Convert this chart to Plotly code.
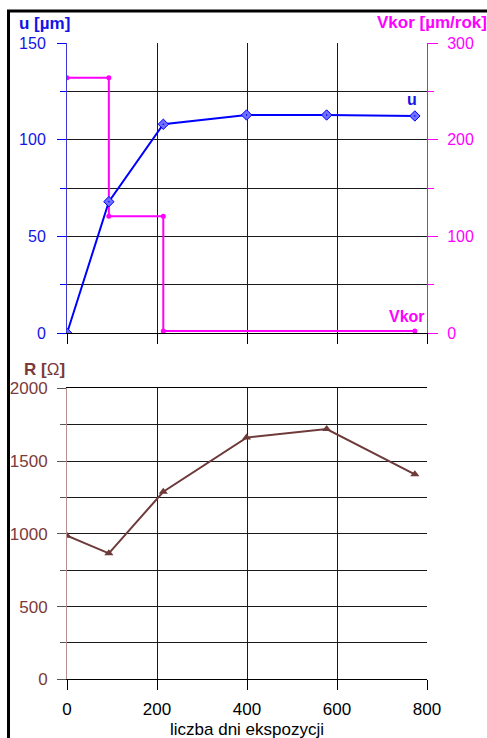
import plotly.graph_objects as go

# ---- data ----
days = [0, 93, 214, 399, 577, 773]
u_um = [0, 68, 108, 112.8, 112.8, 112.3]
vkor_x = [0, 93, 93, 214, 214, 773]
vkor_y = [264, 264, 121, 121, 2.4, 2.4]
r_ohm = [987, 866, 1289, 1661, 1720, 1409]
x_ticks = [0, 200, 400, 600, 800]

W, H = 487, 738
FONT = "Liberation Sans, Arial, sans-serif"
BLUE = "#0000ff"
BLUE_TXT = "#1414e6"
MAG = "#ff00ff"
BROWN = "#6e3a3a"
BROWN_TXT = "#7a3a3a"
GRID = "#1a1a1a"

def px(x):
    return x / W

def py(y):
    return 1 - y / H

xdom = [px(67), px(427)]
top_dom = [py(333.3), py(43)]
bot_dom = [py(679.3), py(388.3)]

fig = go.Figure()

fig.add_trace(go.Scatter(
    x=vkor_x, y=vkor_y, mode="lines+markers", xaxis="x", yaxis="y",
    line=dict(color=MAG, width=2), marker=dict(symbol="circle", size=5, color=MAG),
    hoverinfo="skip", showlegend=False))
fig.add_trace(go.Scatter(
    x=days, y=u_um, mode="lines+markers", xaxis="x", yaxis="y2",
    line=dict(color=BLUE, width=2),
    marker=dict(symbol="diamond-dot", size=8, color="#7070ff", line=dict(color=BLUE, width=1)),
    hoverinfo="skip", showlegend=False))
fig.add_trace(go.Scatter(
    x=days, y=r_ohm, mode="lines+markers", xaxis="x2", yaxis="y3",
    line=dict(color=BROWN, width=2), marker=dict(symbol="triangle-up", size=8, color=BROWN),
    hoverinfo="skip", showlegend=False))

common_x = dict(range=[0, 800], tickvals=x_ticks, showgrid=True, gridcolor=GRID, gridwidth=1,
                ticks="outside", ticklen=10, tickcolor="#000", zeroline=False, automargin=False,
                showline=True, linecolor="#000", linewidth=1, fixedrange=True)

fig.update_layout(
    template="none",
    width=W, height=H, margin=dict(l=0, r=0, t=0, b=0, autoexpand=False),
    paper_bgcolor="white", plot_bgcolor="white",
    font=dict(family=FONT, size=16, color="#000"),
    xaxis=dict(domain=xdom, anchor="y", showticklabels=False, **common_x),
    yaxis=dict(domain=top_dom, anchor="x", side="right", range=[0, 300], dtick=100,
               showgrid=True, gridcolor=GRID, gridwidth=1, automargin=False,
               minor=dict(dtick=50, showgrid=True, gridcolor=GRID, ticks="outside", ticklen=6, tickcolor=MAG),
               ticks="outside", ticklen=10, tickcolor=MAG, showline=True, linecolor=MAG, linewidth=1,
               tickfont=dict(color=MAG, size=16), ticklabelstandoff=6, zeroline=False, fixedrange=True),
    yaxis2=dict(overlaying="y", anchor="x", side="left", range=[0, 150], dtick=50,
                showgrid=False, automargin=False,
                minor=dict(dtick=25, showgrid=False, ticks="outside", ticklen=6, tickcolor=BLUE),
                ticks="outside", ticklen=9, tickcolor=BLUE, showline=True, linecolor="#3a3ad0", linewidth=1,
                tickfont=dict(color=BLUE_TXT, size=16), ticklabelstandoff=8, zeroline=False, fixedrange=True),
    xaxis2=dict(domain=xdom, anchor="y3", showticklabels=True, tickfont=dict(size=17, color="#000"),
                ticklabelstandoff=4, mirror=True, **common_x),
    yaxis3=dict(domain=bot_dom, anchor="x2", range=[0, 2000], dtick=500,
                showgrid=True, gridcolor=GRID, gridwidth=1, automargin=False,
                minor=dict(dtick=250, showgrid=True, gridcolor=GRID, ticks="outside", ticklen=6, tickcolor="#555"),
                ticks="outside", ticklen=9, tickcolor="#555", showline=True, linecolor="#b89090", linewidth=1,
                tickfont=dict(color=BROWN_TXT, size=17), ticklabelstandoff=6, zeroline=False, fixedrange=True),
)

ann = [
    dict(text="<b>u [µm]</b>", x=px(17), y=py(24), xanchor="left", yanchor="middle",
         font=dict(color=BLUE_TXT, size=17)),
    dict(text="<b>Vkor [µm/rok]</b>", x=px(489), y=py(22), xanchor="right", yanchor="middle",
         font=dict(color=MAG, size=17)),
    dict(text="<b>u</b>", x=px(412), y=py(100), xanchor="center", yanchor="middle",
         font=dict(color=BLUE_TXT, size=16)),
    dict(text="<b>Vkor</b>", x=px(407), y=py(316), xanchor="center", yanchor="middle",
         font=dict(color=MAG, size=16)),
    dict(text="<b>R [</b>Ω<b>]</b>", x=px(22), y=py(369), xanchor="left", yanchor="middle",
         font=dict(color=BROWN_TXT, size=17)),
    dict(text="liczba dni ekspozycji", x=px(247), y=py(729), xanchor="center", yanchor="middle",
         font=dict(color="#000", size=17)),
]
for a in ann:
    a.update(xref="paper", yref="paper", showarrow=False)
fig.update_layout(annotations=ann)

fig.update_layout(shapes=[
    dict(type="rect", xref="paper", yref="paper", x0=px(8.5), x1=px(500), y0=py(760), y1=py(11),
         line=dict(color="#000", width=3), fillcolor="rgba(0,0,0,0)", layer="above"),
])

fig.write_html("out.html")
